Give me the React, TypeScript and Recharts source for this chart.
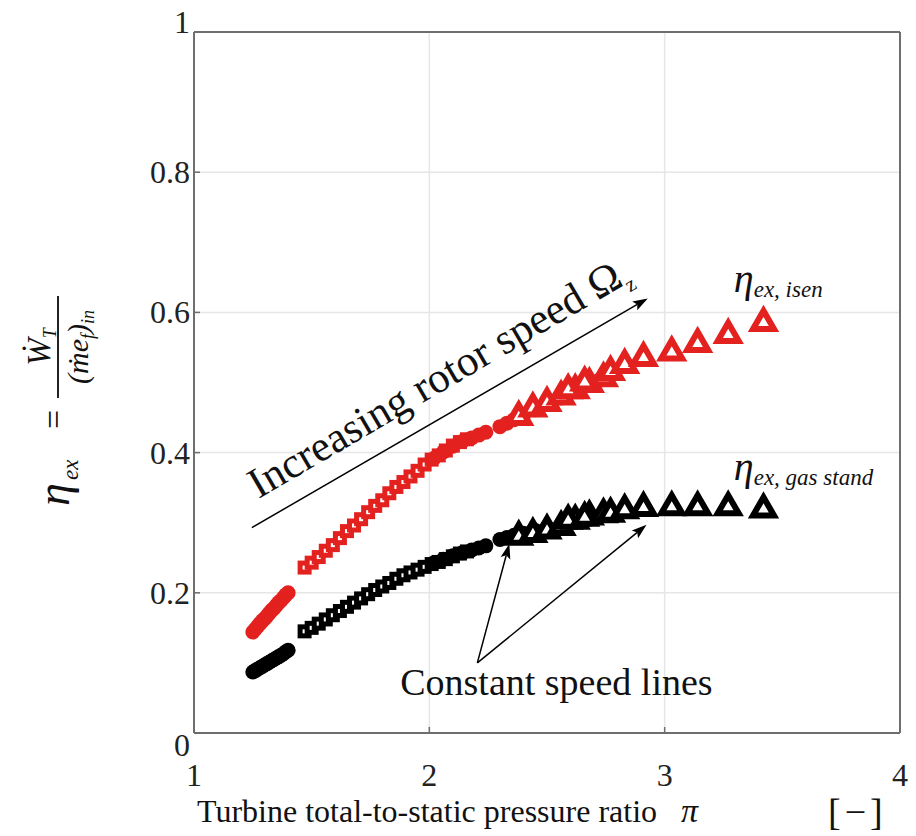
import { ScatterChart, Scatter, XAxis, YAxis, CartesianGrid, ReferenceLine, ReferenceDot } from "recharts";

const RED = "#e3211f";
const INK = "#000000";
const FRAME = "#6e6e6e";
const SERIF = "'Liberation Serif', 'Times New Roman', serif";

const X_TICKS = [1, 2, 3, 4];
const Y_TICKS = [0, 0.2, 0.4, 0.6, 0.8, 1];

// speed line 1 (filled circles)
const S1_PI = [1.25, 1.26, 1.27, 1.28, 1.29, 1.3, 1.31, 1.32, 1.33, 1.34, 1.35, 1.36, 1.37, 1.38, 1.39, 1.4];
const S1_ISEN = [0.144, 0.148, 0.152, 0.156, 0.16, 0.163, 0.167, 0.171, 0.175, 0.178, 0.182, 0.186, 0.189, 0.193, 0.197, 0.2];
const S1_GAS = [0.087, 0.089, 0.091, 0.093, 0.095, 0.097, 0.099, 0.101, 0.103, 0.105, 0.107, 0.109, 0.111, 0.113, 0.116, 0.118];

// speed line 2 (squares)
const S2_PI = [1.47, 1.5, 1.53, 1.56, 1.59, 1.62, 1.65, 1.68, 1.71, 1.74, 1.77, 1.8, 1.83, 1.86, 1.89, 1.92, 1.95, 1.98, 2.01, 2.04, 2.07, 2.1, 2.13, 2.16];
const S2_ISEN = [0.236, 0.243, 0.251, 0.26, 0.268, 0.278, 0.288, 0.296, 0.305, 0.315, 0.324, 0.332, 0.342, 0.351, 0.358, 0.366, 0.374, 0.383, 0.39, 0.396, 0.403, 0.41, 0.415, 0.419];
const S2_GAS = [0.145, 0.15, 0.156, 0.162, 0.168, 0.174, 0.18, 0.186, 0.192, 0.198, 0.204, 0.209, 0.214, 0.22, 0.225, 0.229, 0.233, 0.237, 0.241, 0.244, 0.248, 0.252, 0.256, 0.259];

// speed line 3 (filled circles)
const S3_PI = [2.02, 2.06, 2.1, 2.14, 2.18, 2.21, 2.24];
const S3_ISEN = [0.392, 0.401, 0.409, 0.416, 0.421, 0.425, 0.429];
const S3_GAS = [0.243, 0.248, 0.253, 0.257, 0.261, 0.264, 0.267];

// speed line 4 (filled circles)
const S4_PI = [2.3, 2.33, 2.36, 2.4, 2.45, 2.5, 2.56, 2.62, 2.68, 2.72];
const S4_ISEN = [0.437, 0.442, 0.447, 0.453, 0.461, 0.469, 0.478, 0.487, 0.496, 0.503];
const S4_GAS = [0.276, 0.279, 0.282, 0.285, 0.289, 0.293, 0.297, 0.301, 0.305, 0.308];

// speed line 5 (open triangles)
const S5_PI = [2.38, 2.44, 2.5, 2.56, 2.62, 2.68, 2.74];
const S5_ISEN = [0.451, 0.463, 0.471, 0.48, 0.489, 0.498, 0.506];
const S5_GAS = [0.28, 0.284, 0.289, 0.294, 0.303, 0.309, 0.312];

// speed line 6 (open triangles)
const S6_PI = [2.59, 2.66, 2.77, 2.83, 2.91, 3.03, 3.14, 3.27, 3.42];
const S6_ISEN = [0.489, 0.5, 0.515, 0.525, 0.535, 0.543, 0.555, 0.568, 0.585];
const S6_GAS = [0.303, 0.307, 0.313, 0.318, 0.321, 0.322, 0.322, 0.322, 0.319];

const pts = (xs: number[], ys: number[]) => xs.map((x, i) => ({ pi: x, eta: ys[i] }));

const dot = (color: string) => (p: any) => <circle cx={p.cx} cy={p.cy} r={7.5} fill={color} />;

const box = (color: string) => (p: any) => (
  <rect x={p.cx - 4.5} y={p.cy - 4.5} width={9} height={9} fill="#fff" stroke={color} strokeWidth={5} />
);

const tri = (color: string) => (p: any) => {
  const s = 21;
  const h = s * 0.866;
  return (
    <path
      d={`M${p.cx},${p.cy - (2 * h) / 3} L${p.cx + s / 2},${p.cy + h / 3} L${p.cx - s / 2},${p.cy + h / 3} Z`}
      fill="#fff"
      stroke={color}
      strokeWidth={6}
      strokeLinejoin="miter"
    />
  );
};

const arrow = (p: any) => {
  const { x1, y1, x2, y2 } = p;
  const a = Math.atan2(y2 - y1, x2 - x1);
  const len = 15;
  const half = 5;
  const bx = x2 - len * Math.cos(a);
  const by = y2 - len * Math.sin(a);
  const nx = -Math.sin(a) * half;
  const ny = Math.cos(a) * half;
  const ix = bx + Math.cos(a) * 3;
  const iy = by + Math.sin(a) * 3;
  return (
    <g>
      <line x1={x1} y1={y1} x2={ix} y2={iy} stroke={INK} strokeWidth={1.5} />
      <path d={`M${x2},${y2} L${bx + nx},${by + ny} L${ix},${iy} L${bx - nx},${by - ny} Z`} fill={INK} />
    </g>
  );
};

const XTick = (p: any) => (
  <g>
    <line x1={p.x} y1={p.y} x2={p.x} y2={p.y - 6} stroke={FRAME} strokeWidth={1.5} />
    <text x={p.x} y={p.y + 53} textAnchor="middle" fontFamily={SERIF} fontSize={32} fill="#222">
      {p.payload.value}
    </text>
  </g>
);

const YTick = (p: any) => {
  const v = p.payload.value;
  const shift = v === 1 ? -10 : v === 0 ? 12 : 0;
  return (
    <g>
      <line x1={p.x} y1={p.y} x2={p.x + 6} y2={p.y} stroke={FRAME} strokeWidth={1.5} />
      <text x={p.x - 4} y={p.y + 11 + shift} textAnchor="end" fontFamily={SERIF} fontSize={32} fill="#222">
        {v}
      </text>
    </g>
  );
};

const TopTick = (p: any) => <line x1={p.x} y1={p.y} x2={p.x} y2={p.y + 6} stroke={FRAME} strokeWidth={1.5} />;
const RightTick = (p: any) => <line x1={p.x} y1={p.y} x2={p.x - 6} y2={p.y} stroke={FRAME} strokeWidth={1.5} />;

const speedText = (p: any) => (
  <text
    x={p.cx}
    y={p.cy}
    textAnchor="middle"
    transform={`rotate(-30.3 ${p.cx} ${p.cy})`}
    fontFamily={SERIF}
    fontSize={43}
    fill="#111"
  >
    Increasing rotor speed Ω<tspan fontSize={21} dy={9}>z</tspan>
  </text>
);

const constText = (p: any) => (
  <text x={p.cx} y={p.cy} textAnchor="middle" fontFamily={SERIF} fontSize={38} fill="#111">
    Constant speed lines
  </text>
);

const etaLabel = (sub: string) => (p: any) => (
  <text x={p.cx} y={p.cy} fontFamily={SERIF} fontStyle="italic" fontSize={40} fill="#111">
    η<tspan fontSize={23} dy={5}>{sub}</tspan>
  </text>
);

export default function App() {
  const series = [
    { pi: S1_PI, isen: S1_ISEN, gas: S1_GAS, mark: dot },
    { pi: S2_PI, isen: S2_ISEN, gas: S2_GAS, mark: box },
    { pi: S3_PI, isen: S3_ISEN, gas: S3_GAS, mark: dot },
    { pi: S4_PI, isen: S4_ISEN, gas: S4_GAS, mark: dot },
    { pi: S5_PI, isen: S5_ISEN, gas: S5_GAS, mark: tri },
    { pi: S6_PI, isen: S6_ISEN, gas: S6_GAS, mark: tri },
  ];

  return (
    <div style={{ position: "absolute", left: 0, top: 0, width: 916, height: 836, background: "#fff" }}>
      <ScatterChart width={916} height={836} margin={{ top: 31, right: 15, bottom: 63, left: 134 }}>
        <CartesianGrid stroke="#e6e6e6" strokeWidth={1.5} />
        <XAxis
          type="number"
          dataKey="pi"
          domain={[1, 4]}
          ticks={X_TICKS}
          height={40}
          tickSize={0}
          tickMargin={0}
          tickLine={false}
          tick={XTick}
          axisLine={{ stroke: FRAME, strokeWidth: 2 }}
        />
        <XAxis
          xAxisId="top"
          orientation="top"
          type="number"
          dataKey="pi"
          domain={[1, 4]}
          ticks={X_TICKS}
          height={1}
          tickSize={0}
          tickMargin={0}
          tickLine={false}
          tick={TopTick}
          axisLine={{ stroke: FRAME, strokeWidth: 2 }}
        />
        <YAxis
          type="number"
          dataKey="eta"
          domain={[0, 1]}
          ticks={Y_TICKS}
          width={60}
          tickSize={0}
          tickMargin={0}
          tickLine={false}
          tick={YTick}
          axisLine={{ stroke: FRAME, strokeWidth: 2 }}
        />
        <YAxis
          yAxisId="right"
          orientation="right"
          type="number"
          dataKey="eta"
          domain={[0, 1]}
          ticks={Y_TICKS}
          width={1}
          tickSize={0}
          tickMargin={0}
          tickLine={false}
          tick={RightTick}
          axisLine={{ stroke: FRAME, strokeWidth: 2 }}
        />

        {series.map((s, i) => (
          <Scatter key={`gas-${i}`} data={pts(s.pi, s.gas)} shape={s.mark(INK)} isAnimationActive={false} />
        ))}
        {series.map((s, i) => (
          <Scatter key={`isen-${i}`} data={pts(s.pi, s.isen)} shape={s.mark(RED)} isAnimationActive={false} />
        ))}

        <ReferenceLine segment={[{ x: 1.246, y: 0.293 }, { x: 2.928, y: 0.62 }]} shape={arrow} />
        <ReferenceLine segment={[{ x: 2.204, y: 0.1 }, { x: 2.34, y: 0.27 }]} shape={arrow} />
        <ReferenceLine segment={[{ x: 2.204, y: 0.1 }, { x: 2.923, y: 0.297 }]} shape={arrow} />

        <ReferenceDot x={2.07} y={0.49} r={0} shape={speedText} />
        <ReferenceDot x={2.54} y={0.054} r={0} shape={constText} />
        <ReferenceDot x={3.294} y={0.629} r={0} shape={etaLabel("ex, isen")} />
        <ReferenceDot x={3.294} y={0.361} r={0} shape={etaLabel("ex, gas stand")} />
      </ScatterChart>

      <svg width={916} height={836} style={{ position: "absolute", left: 0, top: 0, pointerEvents: "none" }}>
        <g transform="translate(60 400) rotate(-90)" fontFamily={SERIF} fill="#111">
          <text x={-106} y={9} fontSize={46} fontStyle="italic">η</text>
          <text x={-80} y={18} fontSize={23} fontStyle="italic">ex</text>
          <text x={-29} y={5} fontSize={34}>=</text>
          <line x1={2} y1={-2} x2={104} y2={-2} stroke="#222" strokeWidth={2} />
          <text x={53} y={-10} textAnchor="middle" fontSize={33} fontStyle="italic">
            Ẇ<tspan fontSize={18} dy={6}>T</tspan>
          </text>
          <text x={53} y={28} textAnchor="middle" fontSize={30} fontStyle="italic">
            (ṁe<tspan fontSize={18} dy={6}>f</tspan>
            <tspan dy={-6}>)</tspan>
            <tspan fontSize={18} dy={6}>in</tspan>
          </text>
        </g>
        <g fontFamily={SERIF} fill="#111">
          <text x={197} y={822} fontSize={32}>Turbine total-to-static pressure ratio</text>
          <text x={681} y={822} fontSize={34} fontStyle="italic">π</text>
          <text x={828} y={825} fontSize={38} letterSpacing={4}>[−]</text>
        </g>
      </svg>
    </div>
  );
}
